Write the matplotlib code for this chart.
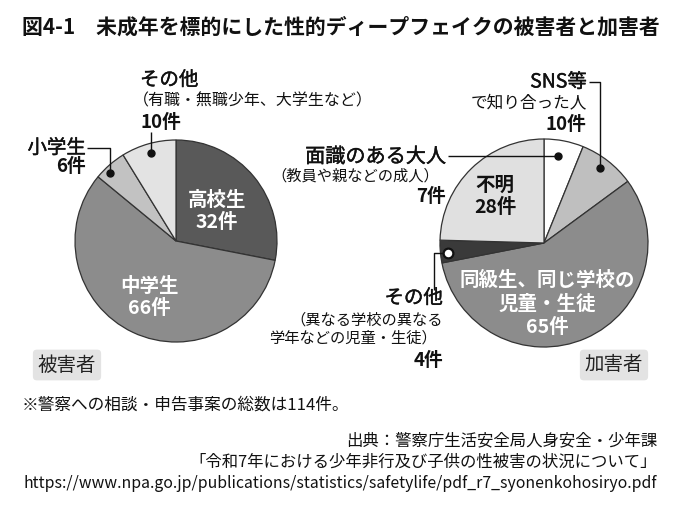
import matplotlib
matplotlib.use("Agg")
import matplotlib.pyplot as plt
import matplotlib.patheffects as pe

plt.rcParams["font.family"] = ["Noto Sans CJK JP", "DejaVu Sans"]

W, H = 698, 512

# 被害者 (victims)
victim_labels = ["高校生", "中学生", "小学生", "その他"]
victim_counts = [32, 66, 6, 10]
victim_colors = ["#595959", "#8c8c8c", "#c2c2c2", "#e3e3e3"]

# 加害者 (offenders)
offender_labels = ["面識のある大人", "SNS等で知り合った人", "同級生、同じ学校の児童・生徒", "その他", "不明"]
offender_counts = [7, 10, 65, 4, 28]
offender_colors = ["#ffffff", "#bfbfbf", "#8c8c8c", "#3a3a3a", "#e0e0e0"]

title = "図4-1　未成年を標的にした性的ディープフェイクの被害者と加害者"
note = "※警察への相談・申告事案の総数は114件。"
source = ["出典：警察庁生活安全局人身安全・少年課",
          "「令和7年における少年非行及び子供の性被害の状況について」",
          "https://www.npa.go.jp/publications/statistics/safetylife/pdf_r7_syonenkohosiryo.pdf"]

fig = plt.figure(figsize=(W / 100, H / 100), dpi=100)
ax = fig.add_axes([0, 0, 1, 1])

wedge_kw = dict(edgecolor="#333333", linewidth=0.9)
# y axis is inverted below, so counterclock=True draws clockwise on screen
ax.pie(victim_counts, colors=victim_colors, center=(176, 241), radius=101,
       startangle=-90, counterclock=True, wedgeprops=wedge_kw, frame=True)
ax.pie(offender_counts, colors=offender_colors, center=(544, 243), radius=104,
       startangle=-90, counterclock=True, wedgeprops=wedge_kw, frame=True)

ax.set_xlim(0, W)
ax.set_ylim(H, 0)
ax.set_aspect("auto")
ax.axis("off")

# regular face thickened a little to look like a medium weight
med = [pe.withStroke(linewidth=0.3, foreground="#111111")]
lbl = dict(fontsize=14, color="#111111", va="center", path_effects=med)
sml = dict(fontsize=11, color="#111111", va="center")
cnt = dict(fontsize=13.5, fontweight="bold", color="#111111", va="center")
ins = dict(fontsize=14, fontweight="bold", ha="center", va="center")

def leader(xs, ys, hollow=False):
    ax.plot(xs, ys, color="#111111", lw=1.0, solid_capstyle="butt")
    if hollow:
        ax.plot(xs[0], ys[0], "o", ms=7, mfc="white", mec="#111111", mew=1.6)
    else:
        ax.plot(xs[-1], ys[-1], "o", ms=5, color="#111111")

# ---- left pie labels
ax.text(217, 200, victim_labels[0], color="white", **ins)
ax.text(217, 222, f"{victim_counts[0]}件", color="white", **ins)
ax.text(149, 287, victim_labels[1], color="white", **ins)
ax.text(149, 308, f"{victim_counts[1]}件", color="white", **ins)

ax.text(140, 80, victim_labels[3], ha="left", **lbl)
ax.text(133, 101, "（有職・無職少年、大学生など）", ha="left", fontsize=11.5,
        color="#111111", va="center")
ax.text(141, 122, f"{victim_counts[3]}件", ha="left", **cnt)
leader([151, 151], [132, 153])

ax.text(86, 148, victim_labels[2], ha="right", **lbl)
ax.text(86, 167, f"{victim_counts[2]}件", ha="right", **cnt)
leader([87, 110, 110], [148, 148, 173])

ax.text(67, 365, "被害者", fontsize=14, ha="center", va="center", color="#222222",
        bbox=dict(boxstyle="round,pad=0.25,rounding_size=0.2", fc="#e3e3e3", ec="none"))

# ---- right pie labels
ax.text(495, 185, offender_labels[4], color="#111111", **ins)
ax.text(495, 207, f"{offender_counts[4]}件", color="#111111", **ins)
ax.text(547, 280, "同級生、同じ学校の", color="white", **ins)
ax.text(547, 304, "児童・生徒", color="white", **ins)
ax.text(547, 327, f"{offender_counts[2]}件", color="white", **ins)

ax.text(587, 82, "SNS等", ha="right", **lbl)
ax.text(587, 103, "で知り合った人", ha="right", fontsize=12, color="#111111", va="center")
ax.text(586, 125, f"{offender_counts[1]}件", ha="right", **cnt)
leader([589, 600, 600], [82, 82, 168])

ax.text(446, 157, offender_labels[0], ha="right", fontsize=14.5, color="#111111",
        va="center", path_effects=med)
ax.text(439, 176, "（教員や親などの成人）", ha="right", **sml)
ax.text(446, 196, f"{offender_counts[0]}件", ha="right", **cnt)
leader([448, 558], [156, 156])

ax.text(443, 298, offender_labels[3], ha="right", **lbl)
ax.text(443, 320, "（異なる学校の異なる", ha="right", **sml)
ax.text(437, 338, "学年などの児童・生徒）", ha="right", **sml)
ax.text(443, 360, f"{offender_counts[3]}件", ha="right", **cnt)
leader([448, 434, 434], [253, 253, 290], hollow=True)

ax.text(614, 365, "加害者", fontsize=14, ha="center", va="center", color="#222222",
        bbox=dict(boxstyle="round,pad=0.25,rounding_size=0.2", fc="#e3e3e3", ec="none"))

# ---- title, note, source
ax.text(22, 27, title, fontsize=15, fontweight="bold", ha="left", va="center", color="#111111")
ax.text(22, 405, note, fontsize=12, ha="left", va="center", color="#111111")
for i, line in enumerate(source):
    fs = 11.4 if i == 2 else 11.8
    ax.text(657, 441 + i * 21, line, fontsize=fs, ha="right", va="center", color="#111111")

fig.savefig("out.png", dpi=100)
